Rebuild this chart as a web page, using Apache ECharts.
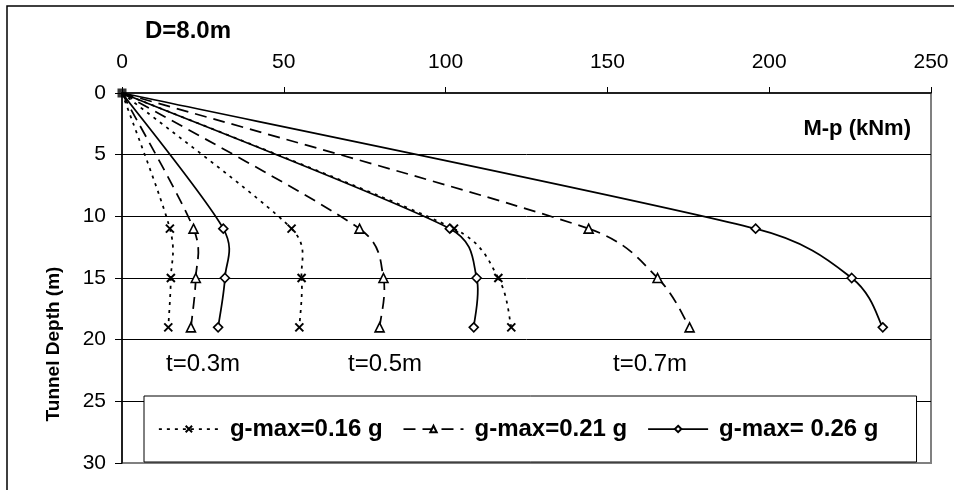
<!DOCTYPE html>
<html>
<head>
<meta charset="utf-8">
<script src="https://cdn.jsdelivr.net/npm/echarts@6/dist/echarts.min.js"></script>
<style>
  html, body { margin: 0; padding: 0; background: #fff; }
  #chart { width: 954px; height: 490px; }
</style>
</head>
<body>
<div id="chart"></div>
<script>
// Bending moment M-p (kNm) against tunnel depth (m), D = 8.0 m
const depths = [0, 11, 15, 19];

const gLabels = ['g-max=0.16 g', 'g-max=0.21 g', 'g-max= 0.26 g'];
const thicknessLabels = ['t=0.3m', 't=0.5m', 't=0.7m'];

// lining thickness t = 0.3 m
const t03_g016 = [0, 14.8, 15.1, 14.3];
const t03_g021 = [0, 22.1, 22.8, 21.3];
const t03_g026 = [0, 31.3, 31.8, 29.7];
// lining thickness t = 0.5 m
const t05_g016 = [0, 52.4, 55.5, 54.8];
const t05_g021 = [0, 73.4, 80.8, 79.6];
const t05_g026 = [0, 101.3, 109.6, 108.7];
// lining thickness t = 0.7 m
const t07_g016 = [0, 102.6, 116.3, 120.3];
const t07_g021 = [0, 144.2, 165.5, 175.4];
const t07_g026 = [0, 195.8, 225.5, 235.1];

const xTicks = { min: 0, max: 250, interval: 50 };
const yTicks = { min: 0, max: 30, interval: 5 };

const FONT = "'Liberation Sans', Arial, sans-serif";
const crossPath = 'path://M0,0L10,10M10,0L0,10';
const LINE_W = 1.75;

const styles = [
  { dash: [3, 5], symbol: crossPath, size: 8 },
  { dash: [12, 7], symbol: 'triangle', size: 9 },
  { dash: 'solid', symbol: 'diamond', size: 9 }
];

// Control arm at point b for a segment of length segLen: tangent along v,
// length |v|/6 but never more than half the segment.
function arm(v, segLen) {
  const len = Math.hypot(v[0], v[1]);
  if (len === 0) return [0, 0];
  const k = Math.min(len / 6, segLen / 2) / len;
  return [v[0] * k, v[1] * k];
}

// Smoothed curve through the points (piecewise cubic Bezier in pixel space)
function curveSeries(values, gi) {
  const st = styles[gi];
  const pts = depths.map((d, i) => [values[i], d]);
  return {
    type: 'custom',
    coordinateSystem: 'cartesian2d',
    encode: { x: 0, y: 1 },
    silent: true,
    z: 2,
    data: pts,
    renderItem: function (params, api) {
      if (params.dataIndex !== 0) return null;
      const p = pts.map(v => api.coord(v));
      const n = p.length;
      const children = [];
      for (let i = 0; i < n - 1; i++) {
        const a = p[i > 0 ? i - 1 : i];
        const b = p[i];
        const c = p[i + 1];
        const d = p[i + 2 < n ? i + 2 : i + 1];
        const seg = Math.hypot(c[0] - b[0], c[1] - b[1]);
        const out = arm([c[0] - a[0], c[1] - a[1]], seg);
        const inn = arm([d[0] - b[0], d[1] - b[1]], seg);
        children.push({
          type: 'bezierCurve',
          shape: {
            x1: b[0], y1: b[1],
            cpx1: b[0] + out[0], cpy1: b[1] + out[1],
            cpx2: c[0] - inn[0], cpy2: c[1] - inn[1],
            x2: c[0], y2: c[1]
          },
          style: {
            fill: null, stroke: '#000', lineWidth: LINE_W,
            lineDash: st.dash === 'solid' ? null : st.dash
          }
        });
      }
      return { type: 'group', children: children };
    }
  };
}

// Point markers (and legend entries) for each curve
function markerSeries(values, gi) {
  const st = styles[gi];
  return {
    name: gLabels[gi],
    type: 'line',
    symbol: st.symbol,
    symbolSize: st.size,
    showAllSymbol: true,
    lineStyle: { color: '#000', width: LINE_W, type: st.dash, opacity: 0 },
    itemStyle: {
      color: gi === 0 ? '#000' : '#fff',
      borderColor: '#000',
      borderWidth: gi === 0 ? 2 : 1.6
    },
    data: depths.map((d, i) => i === 0
      ? { value: [values[i], d], symbol: 'none' }
      : [values[i], d]),
    z: 4
  };
}

const groups = [
  [t03_g016, t03_g021, t03_g026],
  [t05_g016, t05_g021, t05_g026],
  [t07_g016, t07_g021, t07_g026]
];

const series = [];
groups.forEach(g => g.forEach((vals, gi) => {
  series.push(curveSeries(vals, gi));
  series.push(markerSeries(vals, gi));
}));
series.push({
  type: 'scatter',
  symbol: 'rect',
  symbolSize: 9,
  itemStyle: { color: '#000' },
  data: [[t03_g016[0], depths[0]]],
  z: 5
});

const chart = echarts.init(document.getElementById('chart'), null, { renderer: 'canvas' });

chart.setOption({
  animation: false,
  backgroundColor: '#fff',
  grid: {
    left: 122, right: 23, top: 93, bottom: 27,
    show: true, borderColor: '#808080', borderWidth: 2, backgroundColor: 'transparent'
  },
  xAxis: {
    type: 'value',
    position: 'top',
    min: xTicks.min, max: xTicks.max, interval: xTicks.interval,
    axisLine: { show: true, lineStyle: { color: '#000', width: 1.5 } },
    axisTick: { show: true, length: 6, lineStyle: { color: '#000', width: 1 } },
    axisLabel: { color: '#000', fontSize: 21, fontFamily: FONT, margin: 20 },
    splitLine: { show: false }
  },
  yAxis: {
    type: 'value',
    inverse: true,
    min: yTicks.min, max: yTicks.max, interval: yTicks.interval,
    axisLine: { show: true, lineStyle: { color: '#000', width: 1.5 } },
    axisTick: { show: true, length: 7, lineStyle: { color: '#000', width: 1 } },
    axisLabel: { color: '#000', fontSize: 21, fontFamily: FONT, margin: 16 },
    splitLine: { show: true, showMinLine: false, showMaxLine: false, lineStyle: { color: '#000', width: 1 } }
  },
  legend: {
    data: gLabels.map((name, gi) => ({
      name: name,
      lineStyle: { color: '#000', width: LINE_W, type: styles[gi].dash, opacity: 1 }
    })),
    left: 144,
    top: 396,
    orient: 'horizontal',
    padding: [21, 38, 21, 14],
    itemGap: 20,
    itemWidth: 60,
    itemHeight: 8,
    backgroundColor: '#fff',
    borderColor: '#000',
    borderWidth: 1,
    borderRadius: 0,
    textStyle: { color: '#000', fontSize: 24, fontWeight: 'bold', fontFamily: FONT, padding: [0, 0, 0, 6] }
  },
  graphic: [
    {
      type: 'rect',
      shape: { x: 7, y: 6, width: 1200, height: 1200 },
      style: { fill: 'none', stroke: '#000', lineWidth: 1.5 },
      silent: true
    },
    {
      type: 'text', x: 145, y: 31,
      style: { text: 'D=8.0m', fill: '#000', font: "bold 24px " + FONT, textVerticalAlign: 'middle' }
    },
    {
      type: 'text', x: 911, y: 129,
      style: { text: 'M-p (kNm)', fill: '#000', font: "bold 22px " + FONT, textAlign: 'right', textVerticalAlign: 'middle' }
    },
    {
      type: 'text', x: 54, y: 344, rotation: Math.PI / 2,
      style: { text: 'Tunnel Depth (m)', fill: '#000', font: "bold 19px " + FONT, textAlign: 'center', textVerticalAlign: 'middle' }
    },
    {
      type: 'text', x: 203, y: 364,
      style: { text: thicknessLabels[0], fill: '#000', font: "24px " + FONT, textAlign: 'center', textVerticalAlign: 'middle' }
    },
    {
      type: 'text', x: 385, y: 364,
      style: { text: thicknessLabels[1], fill: '#000', font: "24px " + FONT, textAlign: 'center', textVerticalAlign: 'middle' }
    },
    {
      type: 'text', x: 650, y: 364,
      style: { text: thicknessLabels[2], fill: '#000', font: "24px " + FONT, textAlign: 'center', textVerticalAlign: 'middle' }
    }
  ],
  series: series
});
</script>
</body>
</html>
